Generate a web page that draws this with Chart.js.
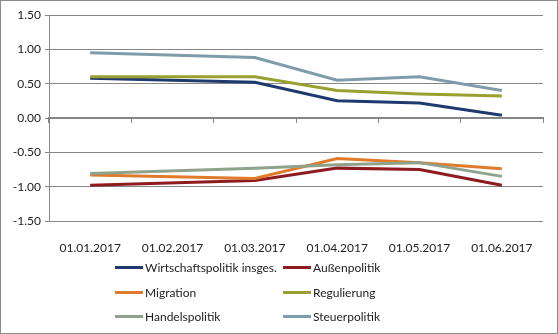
<!DOCTYPE html>
<html>
<head>
<meta charset="utf-8">
<script src="https://cdn.jsdelivr.net/npm/chart.js@4/dist/chart.umd.min.js"></script>
<style>
  html, body { margin: 0; padding: 0; background: #fff; }
  #frame {
    position: relative; width: 556px; height: 332px;
    border: 1px solid #8a8a8a; background: #fff; overflow: hidden;
    font-family: Lato, "Liberation Sans", sans-serif;
  }
  #plot { position: absolute; left: -1px; top: -1px; width: 558px; height: 252px; }
  #legend { position: absolute; left: 0; top: 0; width: 556px; height: 332px; pointer-events: none; }
  .item { position: absolute; height: 16px; display: flex; align-items: center; font-size: 12px; color: #222; white-space: nowrap; }
  .item span.sw { display: inline-block; width: 28px; height: 3px; margin-right: 2px; }
</style>
</head>
<body>
<div id="frame">
  <div id="plot"><canvas id="chart"></canvas></div>
  <div id="legend"></div>
</div>
<script>
// categories (Feb has no value, line is drawn straight through)
const dates = ['01.01.2017', '01.02.2017', '01.03.2017', '01.04.2017', '01.05.2017', '01.06.2017'];

const wirtschaftspolitik = [0.58, null, 0.52, 0.25, 0.22, 0.04];
const aussenpolitik      = [-0.98, null, -0.91, -0.73, -0.75, -0.98];
const migration          = [-0.83, null, -0.88, -0.59, -0.65, -0.74];
const regulierung        = [0.60, null, 0.60, 0.40, 0.35, 0.32];
const handelspolitik     = [-0.81, null, -0.73, -0.68, -0.65, -0.85];
const steuerpolitik      = [0.95, null, 0.88, 0.55, 0.60, 0.40];

const yTicks = [-1.5, -1.0, -0.5, 0, 0.5, 1.0, 1.5];

const series = [
    { label: 'Wirtschaftspolitik insges.', data: wirtschaftspolitik, color: '#1f3a6e' },
    { label: 'Außenpolitik', data: aussenpolitik, color: '#8e1b1f' },
    { label: 'Migration', data: migration, color: '#e07b2c' },
    { label: 'Regulierung', data: regulierung, color: '#9aa02f' },
    { label: 'Handelspolitik', data: handelspolitik, color: '#8fa28c' },
    { label: 'Steuerpolitik', data: steuerpolitik, color: '#7f9cab' }
];

const font = { family: 'Lato, "Liberation Sans", sans-serif', size: 12 };

// later series drawn on top, like Excel
const datasets = series.map((s, i) => ({
    label: s.label,
    data: s.data,
    borderColor: s.color,
    backgroundColor: s.color,
    borderWidth: 3,
    pointRadius: 0,
    tension: 0,
    spanGaps: true,
    fill: false,
    order: series.length - i
}));

const ctx = document.getElementById('chart').getContext('2d');
new Chart(ctx, {
    type: 'line',
    data: { labels: dates, datasets },
    options: {
        responsive: true,
        maintainAspectRatio: false,
        animation: false,
        layout: { padding: { left: 0, right: 15, top: 15, bottom: 0 } },
        plugins: { legend: { display: false }, tooltip: { enabled: false } },
        scales: {
            x: {
                offset: true,
                grid: { display: false },
                border: { display: false },
                ticks: { color: '#222', font, padding: 12, maxRotation: 0 },
                afterFit: (scale) => { scale.height = 31; }
            },
            x0: {
                type: 'category',
                labels: dates,
                position: { y: 0 },
                offset: true,
                grid: { offset: true, drawOnChartArea: false, tickLength: 4, color: '#868686', lineWidth: 1 },
                border: { display: true, color: '#868686', width: 2 },
                ticks: { display: false }
            },
            y: {
                min: -1.5,
                max: 1.5,
                afterBuildTicks: (scale) => { scale.ticks = yTicks.map(v => ({ value: v })); },
                grid: { color: '#868686', lineWidth: 1, tickLength: 4 },
                border: { display: true, color: '#868686', width: 1 },
                ticks: { color: '#222', font, padding: 4, callback: (v) => v.toFixed(2) },
                afterFit: (scale) => { scale.width = 49; }
            }
        }
    }
});

// legend below the plot, two columns
const legend = document.getElementById('legend');
const colX = [114, 282];
const rowY = [258, 283, 307];
series.forEach((s, i) => {
    const el = document.createElement('div');
    el.className = 'item';
    el.style.left = colX[i % 2] + 'px';
    el.style.top = rowY[Math.floor(i / 2)] + 'px';
    el.innerHTML = '<span class="sw" style="background:' + s.color + '"></span>' + s.label;
    legend.appendChild(el);
});
</script>
</body>
</html>
